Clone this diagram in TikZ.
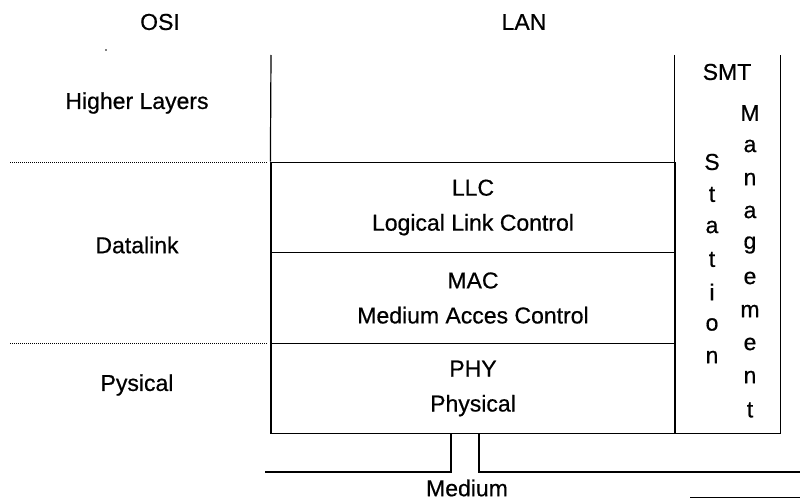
\documentclass[tikz,border=0pt]{standalone}
\usepackage{fontspec}
\setmainfont[FakeBold=0.6]{Liberation Sans}
\begin{document}
\begin{tikzpicture}[x=1pt,y=-1pt,
  every node/.style={font=\fontsize{23}{35}\selectfont, inner sep=0pt},
  wire/.style={line width=1.2pt},
  layer/.style={draw, line width=1.2pt, minimum width=404pt, minimum height=90.5pt, align=center},
  sep/.style={line width=1pt, dash pattern=on 1pt off 1pt},
  vletter/.style={anchor=center}]
\useasboundingbox (0,0) rectangle (800,500);

% column headings
\node (osi) at (160,22) {OSI};
\node (lan) at (524,22) {LAN};

% OSI layer names
\node (higher) at (137,103) {Higher Layers};
\node (dlink) at (137,245) {Datalink};
\node (phys) at (137,385) {Pysical};

% separators between the OSI layers
\coordinate (s1a) at (10,162);  \coordinate (s1b) at (268,162);
\coordinate (s2a) at (10,343);  \coordinate (s2b) at (268,343);
\draw[sep] (s1a) -- (s1b);
\draw[sep] (s2a) -- (s2b);

% LAN sublayers
\node[layer] (llc) at (473,207.5) {LLC\\Logical Link Control};
\node[layer] (mac) at (473,298) {MAC\\Medium Acces Control};
\node[layer] (phy) at (473,388.5) {PHY\\Physical};

% open upper part of the LAN column
\coordinate (top) at (271,55);
\draw[wire] (top) -- (llc.north west);

% station management column
\node[minimum width=105pt, minimum height=378pt] (smt) at (727.5,244) {};
\draw[wire] (smt.north west) |- (smt.south east) -- (smt.north east);
\node (smtlabel) at (727,72) {SMT};
\foreach \c [count=\i from 0] in {S,t,a,t,i,o,n}
  \node[vletter] (st\i) at (712,162+32.5*\i) {\c};
\foreach \c [count=\i from 0] in {M,a,n,a,g,e,m,e,n,t}
  \node[vletter] (mg\i) at (750,113+33*\i) {\c};

% attachment to the medium
\coordinate (tapL) at (451,433);
\coordinate (tapR) at (479,433);
\coordinate (medL) at (265,472);
\coordinate (medR) at (800,472);
\draw[wire] (tapL) |- (medL);
\draw[wire] (tapR) |- (medR);
\node (medium) at (467,488) {Medium};
\coordinate (edgeA) at (690,497);
\coordinate (edgeB) at (800,497);
\draw[line width=0.8pt] (edgeA) -- (edgeB);
\coordinate (speck) at (106,50);
\fill (speck) circle (0.8pt);
\end{tikzpicture}
\end{document}
